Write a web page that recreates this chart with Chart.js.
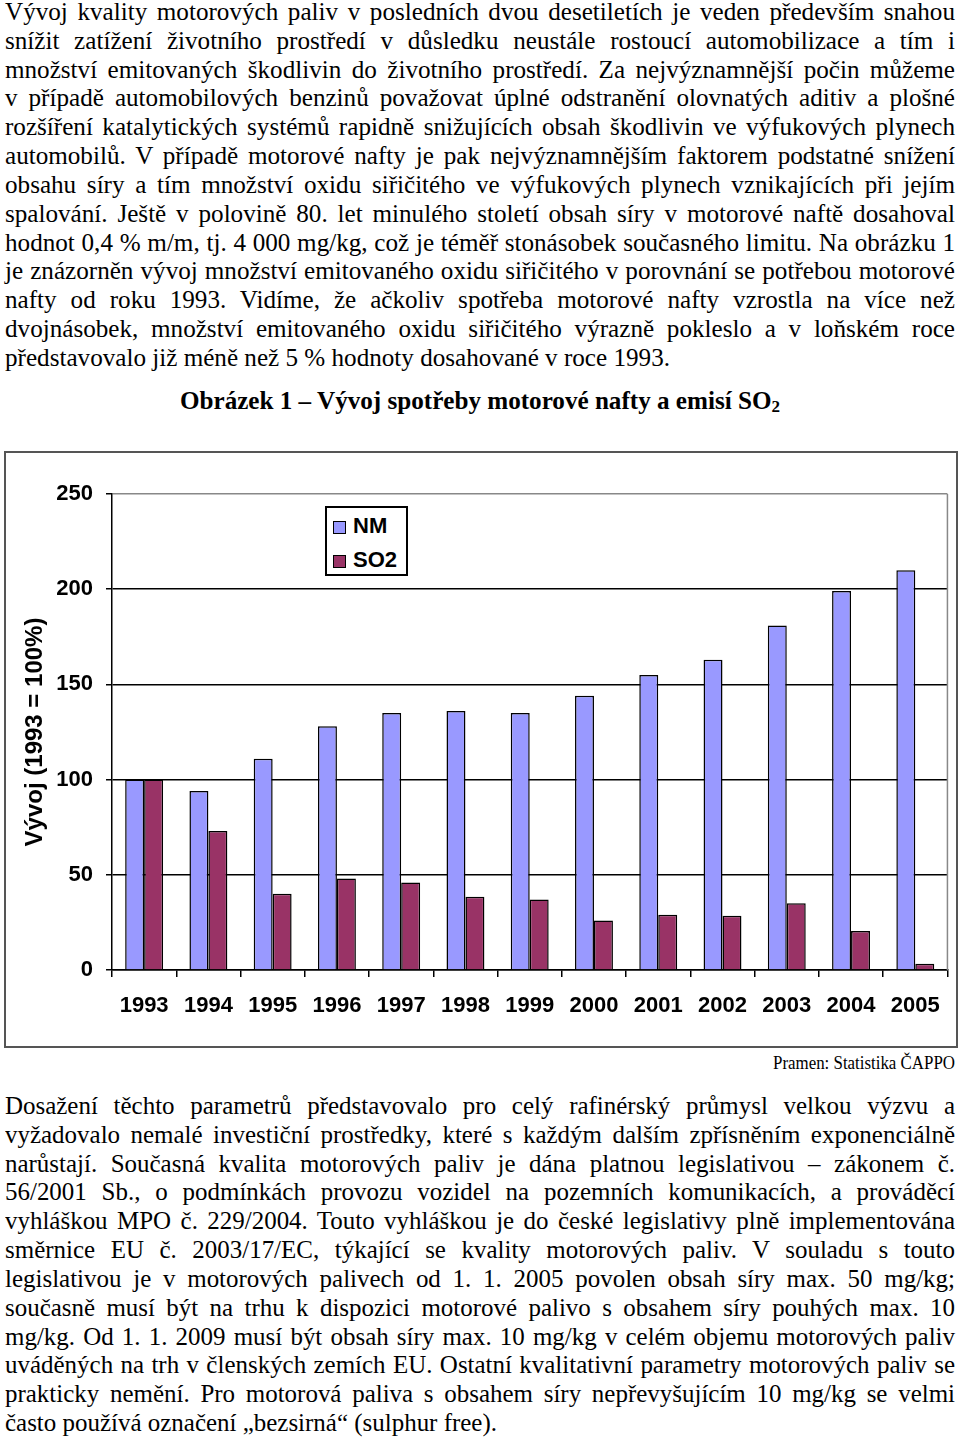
<!DOCTYPE html>
<html>
<head>
<meta charset="utf-8">
<script src="https://cdn.jsdelivr.net/npm/chart.js@4.4.0/dist/chart.umd.min.js"></script>
<style>
  body { margin: 0; width: 960px; height: 1440px; position: relative; background: #fff; overflow: hidden; }
  .txt { position: absolute; left: 5px; font-family: "Liberation Serif", "Times New Roman", serif; font-size: 25px; line-height: 28.83px; color: #000; transform-origin: 0 0; }
  .txt .j { text-align: justify; text-align-last: justify; }
  .txt .l { text-align: left; }
  #title { position: absolute; top: 386px; left: 0; font-family: "Liberation Serif", serif; font-weight: bold; font-size: 25px; line-height: 30px; white-space: nowrap; transform-origin: 0 0; }
  #title sub { font-size: 17px; vertical-align: -3px; line-height: 0; }
  #source { position: absolute; top: 1052px; font-family: "Liberation Serif", serif; font-size: 19px; line-height: 22px; white-space: nowrap; transform-origin: 0 0; }
  #frame { position: absolute; left: 4px; top: 451px; width: 954px; height: 597px; box-sizing: border-box; border: 2px solid #555; }
  #frame canvas { position: absolute; left: 0; top: 0; }
  #legend { position: absolute; left: 319px; top: 53px; width: 83px; height: 70px; box-sizing: border-box; border: 2px solid #000; background: #fff;
            font-family: "Liberation Sans", Arial, sans-serif; font-weight: bold; font-size: 22px; }
  #legend .item { position: absolute; left: 6px; height: 26px; line-height: 26px; white-space: nowrap; }
  #legend .box { display: inline-block; width: 11px; height: 11px; border: 1.5px solid #000; vertical-align: -1px; margin-right: 7px; }
</style>
</head>
<body>

<div class="txt" id="para1"></div>
<div id="title">Obrázek 1 – Vývoj spotřeby motorové nafty a emisí SO<sub>2</sub></div>
<div id="frame">
  <canvas id="chart" width="950" height="593"></canvas>
  <div id="legend"></div>
</div>
<div id="source">Pramen: Statistika ČAPPO</div>
<div class="txt" id="para2"></div>

<script>
// values (1993 = 100 %)
const years = ['1993', '1994', '1995', '1996', '1997', '1998', '1999', '2000', '2001', '2002', '2003', '2004', '2005'];
const nmValues = [100, 94, 111, 128, 135, 136, 135, 144, 155, 163, 181, 199, 210];
const so2Values = [100, 73, 40, 48, 46, 38.5, 37, 26, 29, 28.5, 35, 20.5, 3.3];
const yTicks = [0, 50, 100, 150, 200, 250];

const para1Lines = [
  'Vývoj kvality motorových paliv v posledních dvou desetiletích je veden především snahou',
  'snížit zatížení životního prostředí v důsledku neustále rostoucí automobilizace a tím i',
  'množství emitovaných škodlivin do životního prostředí. Za nejvýznamnější počin můžeme',
  'v případě automobilových benzinů považovat úplné odstranění olovnatých aditiv a plošné',
  'rozšíření katalytických systémů rapidně snižujících obsah škodlivin ve výfukových plynech',
  'automobilů. V případě motorové nafty je pak nejvýznamnějším faktorem podstatné snížení',
  'obsahu síry a tím množství oxidu siřičitého ve výfukových plynech vznikajících při jejím',
  'spalování. Ještě v polovině 80. let minulého století obsah síry v motorové naftě dosahoval',
  'hodnot 0,4 % m/m, tj. 4 000 mg/kg, což je téměř stonásobek současného limitu. Na obrázku 1',
  'je znázorněn vývoj množství emitovaného oxidu siřičitého v porovnání se potřebou motorové',
  'nafty od roku 1993. Vidíme, že ačkoliv spotřeba motorové nafty vzrostla na více než',
  'dvojnásobek, množství emitovaného oxidu siřičitého výrazně pokleslo a v loňském roce',
  'představovalo již méně než 5 % hodnoty dosahované v roce 1993.'
];
const para2Lines = [
  'Dosažení těchto parametrů představovalo pro celý rafinérský průmysl velkou výzvu a',
  'vyžadovalo nemalé investiční prostředky, které s každým dalším zpřísněním exponenciálně',
  'narůstají. Současná kvalita motorových paliv je dána platnou legislativou – zákonem č.',
  '56/2001 Sb., o podmínkách provozu vozidel na pozemních komunikacích, a prováděcí',
  'vyhláškou MPO č. 229/2004. Touto vyhláškou je do české legislativy plně implementována',
  'směrnice EU č. 2003/17/EC, týkající se kvality motorových paliv. V souladu s touto',
  'legislativou je v motorových palivech od 1. 1. 2005 povolen obsah síry max. 50 mg/kg;',
  'současně musí být na trhu k dispozici motorové palivo s obsahem síry pouhých max. 10',
  'mg/kg. Od 1. 1. 2009 musí být obsah síry max. 10 mg/kg v celém objemu motorových paliv',
  'uváděných na trh v členských zemích EU. Ostatní kvalitativní parametry motorových paliv se',
  'prakticky nemění. Pro motorová paliva s obsahem síry nepřevyšujícím 10 mg/kg se velmi',
  'často používá označení „bezsirná“ (sulphur free).'
];

function textWidth(html, font) {
  const sp = document.createElement('span');
  sp.style.cssText = 'position:absolute;visibility:hidden;white-space:nowrap;font:' + font;
  sp.innerHTML = html;
  document.body.appendChild(sp);
  const w = sp.getBoundingClientRect().width;
  sp.remove();
  return w;
}

// the scan is squeezed sideways, so squeeze the text the same way
function buildPara(id, lines, top, lastLineWidth) {
  const el = document.getElementById(id);
  const font = '25px "Liberation Serif"';
  const widths = lines.map(l => textWidth(l, font));
  let s = lastLineWidth / widths[widths.length - 1];
  s = Math.min(s, 948 / Math.max(...widths));
  el.style.top = top + 'px';
  el.style.width = (950 / s) + 'px';
  el.style.transform = 'scaleX(' + s + ')';
  lines.forEach((l, i) => {
    const d = document.createElement('div');
    d.className = i === lines.length - 1 ? 'l' : 'j';
    d.textContent = l;
    el.appendChild(d);
  });
}
buildPara('para1', para1Lines, -2, 665);
buildPara('para2', para2Lines, 1092, 492);

const title = document.getElementById('title');
const ts = 600 / title.getBoundingClientRect().width;
title.style.left = '180px';
title.style.transform = 'scaleX(' + ts + ')';

const source = document.getElementById('source');
const ss = 182 / source.getBoundingClientRect().width;
source.style.left = '773px';
source.style.transform = 'scaleX(' + ss + ')';

// gray right edge of the plot area
const plotEdge = {
  id: 'plotEdge',
  afterDatasetsDraw(chart) {
    const { ctx, chartArea } = chart;
    ctx.save();
    ctx.strokeStyle = '#888';
    ctx.lineWidth = 1.5;
    ctx.beginPath();
    ctx.moveTo(chartArea.right, chartArea.top);
    ctx.lineTo(chartArea.right, chartArea.bottom);
    ctx.stroke();
    ctx.restore();
  }
};

const axisFont = { family: '"Liberation Sans", Arial, sans-serif', size: 22, weight: 'bold' };

const chart = new Chart(document.getElementById('chart').getContext('2d'), {
  type: 'bar',
  data: {
    labels: years,
    datasets: [
      { label: 'NM', data: nmValues, backgroundColor: '#9999FF', borderColor: '#000', borderWidth: 1.5, barPercentage: 1, categoryPercentage: 0.59 },
      { label: 'SO2', data: so2Values, backgroundColor: '#993366', borderColor: '#000', borderWidth: 1.5, barPercentage: 1, categoryPercentage: 0.59 }
    ]
  },
  options: {
    responsive: false,
    animation: false,
    layout: { padding: { top: 41, right: 6, left: 0, bottom: 0 } },
    plugins: { legend: { display: false }, tooltip: { enabled: false } },
    scales: {
      x: {
        grid: { drawOnChartArea: false, drawTicks: true, tickLength: 7, color: '#000', lineWidth: 1.5 },
        border: { display: true, color: '#000', width: 1.5 },
        ticks: { color: '#000', font: axisFont, padding: 16, maxRotation: 0, autoSkip: false },
        afterFit: s => { s.height = 76; }
      },
      y: {
        min: 0,
        max: 250,
        afterBuildTicks: s => { s.ticks = yTicks.map(v => ({ value: v })); },
        grid: { color: c => (c.tick && c.tick.value === 250 ? '#888' : '#000'), lineWidth: 1.5, tickLength: 6, tickColor: '#000' },
        border: { color: '#000', width: 1.5 },
        ticks: { color: '#000', font: axisFont, padding: 13 },
        title: { display: true, text: 'Vývoj (1993 = 100%)', color: '#000', font: { family: '"Liberation Sans", Arial, sans-serif', size: 24, weight: 'bold' }, padding: { top: 15, bottom: 0 } },
        afterFit: s => { s.width = 106; }
      }
    }
  },
  plugins: [plotEdge]
});

// legend box inside the plot, built from the datasets
const legend = document.getElementById('legend');
chart.data.datasets.forEach((ds, i) => {
  const item = document.createElement('div');
  item.className = 'item';
  item.style.top = (5 + i * 34) + 'px';
  item.innerHTML = '<span class="box" style="background:' + ds.backgroundColor + '"></span>' + ds.label;
  legend.appendChild(item);
});
</script>
</body>
</html>
